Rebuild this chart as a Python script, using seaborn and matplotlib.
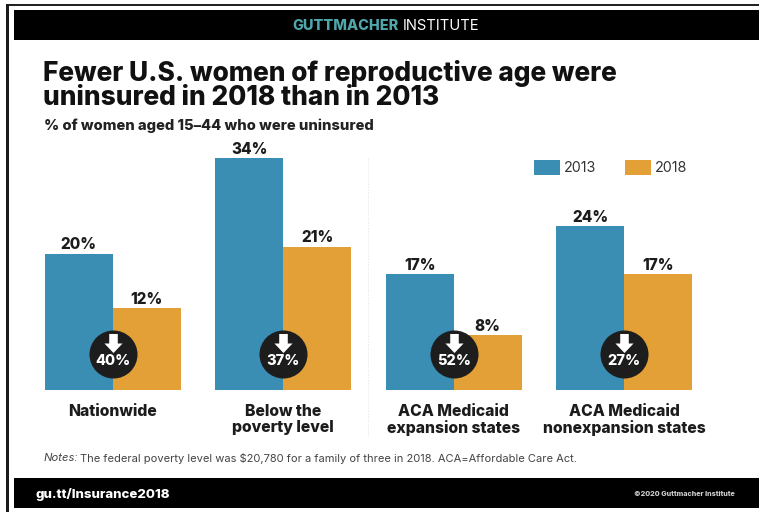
import matplotlib
matplotlib.use("Agg")
import matplotlib.pyplot as plt
from matplotlib.patches import Rectangle
from matplotlib.path import Path
import pandas as pd
import seaborn as sns

# Survey results
categories = ["Nationwide", "Below the\npoverty level", "ACA Medicaid\nexpansion states", "ACA Medicaid\nnonexpansion states"]
uninsured_2013 = [20, 34, 17, 24]
uninsured_2018 = [12, 21, 8, 17]
decline_labels = ["40%", "37%", "52%", "27%"]
years = ["2013", "2018"]
palette = {"2013": "#3a8db3", "2018": "#e3a036"}

W, H = 759, 512
FONT = "Inter"
HEAVY = 800

sns.set_theme(style="white")
plt.rcParams["font.family"] = [FONT, "DejaVu Sans"]

df = pd.DataFrame({
    "group": categories * 2,
    "year": ["2013"] * 4 + ["2018"] * 4,
    "pct": uninsured_2013 + uninsured_2018,
})

fig = plt.figure(figsize=(W / 100, H / 100), dpi=100, facecolor="white")


def fx(px):
    return px / W


def fy(py):
    return 1 - py / H


def band(x0, y0, x1, y1, color):
    fig.add_artist(Rectangle((fx(x0), fy(y1)), (x1 - x0) / W, (y1 - y0) / H,
                             transform=fig.transFigure, facecolor=color, edgecolor="none"))


# Page frame and header/footer bands
band(5.5, 3.5, W, 6, "#222222")
band(5.5, 3.5, 9, 512, "#1a1a1a")
band(14, 10, W, 40, "#000000")
band(14, 478, W, 508, "#000000")

# Plot area spans the four groups, baseline at y=390 px
unit = 170.5
left, right = 112.7 - unit / 2, 624.2 + unit / 2
base, top = 390, 150
ax = fig.add_axes([fx(left), fy(base), (right - left) / W, (base - top) / H])
ax.patch.set_alpha(0)

sns.barplot(data=df, x="group", y="pct", hue="year", order=categories, hue_order=years,
            palette=palette, width=0.8, gap=0, saturation=1, legend=False, linewidth=0, ax=ax)
ax.set_xlim(-0.5, 3.5)
ax.set_ylim(0, (base - top) / 6.82)
ax.set(xlabel="", ylabel="", yticks=[])
sns.despine(ax=ax, left=True, bottom=True)
ax.tick_params(axis="x", length=0, pad=10)
ax.set_xticks(range(4))
ax.set_xticklabels(categories, fontsize=11.3, fontweight=HEAVY, color="#1c1c1c", linespacing=1.1)

for c in ax.containers:
    labels = [f"{v:.0f}%" for v in c.datavalues]
    ax.bar_label(c, labels=labels, padding=1, fontsize=11, fontweight=HEAVY, color="#1c1c1c")

# Decline badges: dark disc, white arrow, white percentage
arrow = Path([(-0.45, 1), (0.45, 1), (0.45, 0), (0.95, 0), (0, -1), (-0.95, 0), (-0.45, 0), (-0.45, 1)], closed=True)
badge_y = (base - 353.5) / 6.82
arrow_y = (base - 342.5) / 6.82
text_y = (base - 361) / 6.82
for i, lab in enumerate(decline_labels):
    ax.scatter([i], [badge_y], s=1195, color="#1d1d1d", linewidths=0, zorder=5)
    ax.scatter([i], [arrow_y], s=188, marker=arrow, color="white", linewidths=0, zorder=6)
    ax.text(i, text_y, lab, color="white", fontsize=10.5, fontweight=HEAVY, ha="center", va="center", zorder=7)

# Divider between the national figures and the state groups
fig.add_artist(plt.Line2D([fx(368), fx(368)], [fy(158), fy(435)], color="#e2e2e2", lw=0.7, ls=":"))


def label(px, py, s, **kw):
    fig.text(fx(px), fy(py), s, **kw)


label(292, 25.5, "GUTTMACHER", color="#4fa7ab", fontsize=10.4, fontweight=HEAVY, va="center")
label(403, 25.5, "INSTITUTE", color="white", fontsize=10.6, va="center")
label(43, 85.5, "Fewer U.S. women of reproductive age were\nuninsured in 2018 than in 2013",
      fontsize=18.9, fontweight=HEAVY, color="#111111", va="center", linespacing=0.94)
label(44, 126, "% of women aged 15\u201344 who were uninsured", fontsize=10.6, fontweight=HEAVY,
      color="#222222", va="center")

# Legend
for x0, yr in zip((534, 624.5), years):
    band(x0, 160, x0 + 26, 175, palette[yr])
    label(x0 + 30, 167.5, yr, fontsize=10.3, color="#333333", va="center")

label(44, 458, "Notes:", fontsize=8.1, style="italic", color="#444444", va="center")
label(80, 458.5, "The federal poverty level was $20,780 for a family of three in 2018. ACA=Affordable Care Act.",
      fontsize=8.0, color="#444444", va="center")
label(36, 494.5, "gu.tt/Insurance2018", fontsize=9.5, fontweight=HEAVY, color="white", va="center")
label(735, 494, "\u00a92020 Guttmacher Institute", fontsize=5.2, fontweight=HEAVY, color="#cccccc",
      va="center", ha="right")

fig.savefig("out.png", dpi=100, facecolor="white")
